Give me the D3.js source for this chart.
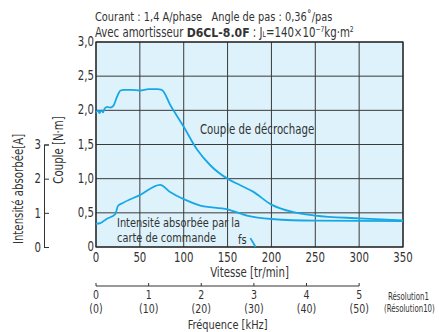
<!DOCTYPE html>
<html>
<head>
<meta charset="utf-8">
<script src="https://cdn.jsdelivr.net/npm/d3@7"></script>
<style>
  body { margin: 0; background: #fff; }
  text { font-family: "DejaVu Sans", sans-serif; font-stretch: condensed; fill: #333; }
</style>
</head>
<body>
<div id="chart"></div>
<script>
// données
var torqueSpeed = [0, 2, 4, 6, 8, 10, 13, 16, 20, 24, 28, 32, 40, 50, 60, 70, 75, 85, 100, 115, 130, 151, 165, 179, 200, 225, 250, 300, 350]
var torqueValue = [1.97, 2.0, 1.96, 2.0, 1.97, 2.03, 2.05, 2.04, 2.07, 2.2, 2.29, 2.3, 2.3, 2.29, 2.31, 2.31, 2.3, 2.07, 1.76, 1.43, 1.2, 0.99, 0.9, 0.81, 0.62, 0.51, 0.46, 0.42, 0.39]
var currentSpeed = [0, 5, 12, 22, 25, 30, 50, 73, 85, 100, 118, 150, 172, 200, 250, 350]
var currentValue = [0.68, 0.7, 0.82, 0.96, 1.2, 1.28, 1.52, 1.82, 1.6, 1.4, 1.22, 1.1, 0.92, 0.82, 0.77, 0.76]
var fsSpeed = [176, 182]
var fsTorque = [0.13, 0]

var speedTicks = [0, 50, 100, 150, 200, 250, 300, 350]
var torqueTicks = [0, 0.5, 1.0, 1.5, 2.0, 2.5, 3.0]
var currentTicks = [0, 1, 2, 3]
var freqTicks = [0, 1, 2, 3, 4, 5]

var width = 439
var height = 332
var mLeft = 96, mRight = 403, mTop = 42, mBottom = 247
var sx = 0.84   // police condensée

var x = d3.scaleLinear().domain([0, 350]).range([mLeft, mRight])
var y = d3.scaleLinear().domain([0, 3]).range([mBottom, mTop])
// 1 A = 0,5 N·m sur le graphique
var yA = d3.scaleLinear().domain([0, 3]).range([mBottom, y(1.5)])
// 1 kHz = 60 tr/min (0,36°/pas)
var xF = d3.scaleLinear().domain([0, 5]).range([x(0), x(300)])

var fmt = d => d === 0 ? '0' : d3.format('.1f')(d).replace('.', ',')

var svg = d3.select('#chart').append('svg')
  .attr('width', width)
  .attr('height', height)

function txt(parent, s, px, py, size, anchor, rot, k) {
  return parent.append('text')
    .attr('transform', `translate(${px},${py})` + (rot ? ` rotate(${rot})` : '') + ` scale(${k || sx},1)`)
    .attr('font-size', size)
    .attr('text-anchor', anchor || 'start')
    .text(s)
}

// fond + grille
svg.append('rect')
  .attr('x', mLeft).attr('y', mTop)
  .attr('width', mRight - mLeft).attr('height', mBottom - mTop)
  .attr('fill', '#def2fc')

svg.append('g')
  .selectAll('line')
  .data(torqueTicks)
  .enter()
  .append('line')
  .attr('x1', mLeft).attr('x2', mRight)
  .attr('y1', d => y(d)).attr('y2', d => y(d))
  .attr('stroke', '#3a3a3a').attr('stroke-width', 1)

svg.append('g')
  .selectAll('line')
  .data(speedTicks)
  .enter()
  .append('line')
  .attr('x1', d => x(d)).attr('x2', d => x(d))
  .attr('y1', mTop).attr('y2', mBottom)
  .attr('stroke', '#3a3a3a').attr('stroke-width', 1)

svg.append('rect')
  .attr('x', mLeft).attr('y', mTop)
  .attr('width', mRight - mLeft).attr('height', mBottom - mTop)
  .attr('fill', 'none').attr('stroke', '#222').attr('stroke-width', 1.2)

// labels d'axes
var gl = svg.append('g')
torqueTicks.forEach(d => txt(gl, fmt(d), mLeft - 2, y(d) + 4, 13.5, 'end'))
speedTicks.forEach(d => txt(gl, d, x(d), mBottom + 15, 13.5, 'middle'))
txt(svg, 'Vitesse [tr/min]', x(175), 277, 13.5, 'middle')

// axe secondaire (courant)
var axisA = d3.axisRight(yA).tickValues(currentTicks).tickSize(5).tickFormat(d => d)
var gA = svg.append('g')
  .attr('transform', 'translate(44,0)')
  .call(axisA)
gA.select('.domain').attr('stroke', '#333')
gA.selectAll('.tick line').attr('stroke', '#333')
gA.selectAll('.tick text')
  .attr('x', -3 / sx)
  .attr('transform', `scale(${sx},1)`)
  .attr('text-anchor', 'end')
  .attr('font-size', 13.5)
  .attr('font-family', null)
  .attr('fill', '#333')

txt(svg, 'Couple [N·m]', 63, 150, 13.5, 'middle', -90)
txt(svg, 'Intensité absorbée[A]', 23, 189, 13.5, 'middle', -90)

// courbes
var torqueLine = d3.line()
  .x((d, i) => x(torqueSpeed[i]))
  .y(d => y(d))
  .curve(d3.curveMonotoneX)

var currentLine = d3.line()
  .x((d, i) => x(currentSpeed[i]))
  .y(d => yA(d))
  .curve(d3.curveMonotoneX)

svg.append('path')
  .attr('d', torqueLine(torqueValue))
  .attr('fill', 'none')
  .attr('stroke', '#16a8e6')
  .attr('stroke-width', 1.8)

svg.append('path')
  .attr('d', currentLine(currentValue))
  .attr('fill', 'none')
  .attr('stroke', '#16a8e6')
  .attr('stroke-width', 1.8)

svg.append('path')
  .attr('d', d3.line().x((d, i) => x(fsSpeed[i])).y(d => y(d))(fsTorque))
  .attr('fill', 'none')
  .attr('stroke', '#16a8e6')
  .attr('stroke-width', 1.8)

// annotations
txt(svg, 'Couple de décrochage', 200, 134, 13.5)
txt(svg, 'Intensité absorbée par la', 117, 227, 13)
txt(svg, 'carte de commande', 117, 242, 13)
txt(svg, 'fs', 238, 244, 13)

// axe fréquence
svg.append('line')
  .attr('x1', xF(0)).attr('x2', xF(5))
  .attr('y1', 286).attr('y2', 286)
  .attr('stroke', '#333').attr('stroke-width', 1)

svg.append('g')
  .selectAll('line')
  .data(freqTicks)
  .enter()
  .append('line')
  .attr('x1', d => xF(d)).attr('x2', d => xF(d))
  .attr('y1', 283).attr('y2', 286)
  .attr('stroke', '#333')

var gf = svg.append('g')
freqTicks.forEach(d => {
  txt(gf, d, xF(d), 299, 12.5, 'middle')
  txt(gf, '(' + d * 10 + ')', xF(d), 313, 12.5, 'middle')
})
txt(svg, 'Résolution1', 388, 300, 10.5, 'start', 0, 0.74)
txt(svg, '(Résolution10)', 384, 312, 10.5, 'start', 0, 0.74)
txt(svg, 'Fréquence [kHz]', xF(2.5), 329, 13, 'middle')

// titre
txt(svg, 'Courant : 1,4 A/phase   Angle de pas : 0,36˚/pas', 95, 21, 13)
  .style('white-space', 'pre')

var t2 = txt(svg, '', 95, 37, 13.5)
t2.append('tspan').text('Avec amortisseur ')
t2.append('tspan').text('D6CL-8.0F')
  .attr('font-weight', 'bold')
  .style('font-stretch', 'normal')
  .attr('font-size', 13)
t2.append('tspan').text(' : J')
t2.append('tspan').text('L').attr('font-size', 8)
t2.append('tspan').text('=140×10')
t2.append('tspan').text('−7').attr('font-size', 8).attr('dy', -5)
t2.append('tspan').text('kg·m').attr('dy', 5)
t2.append('tspan').text('2').attr('font-size', 8).attr('dy', -5)
</script>
</body>
</html>
